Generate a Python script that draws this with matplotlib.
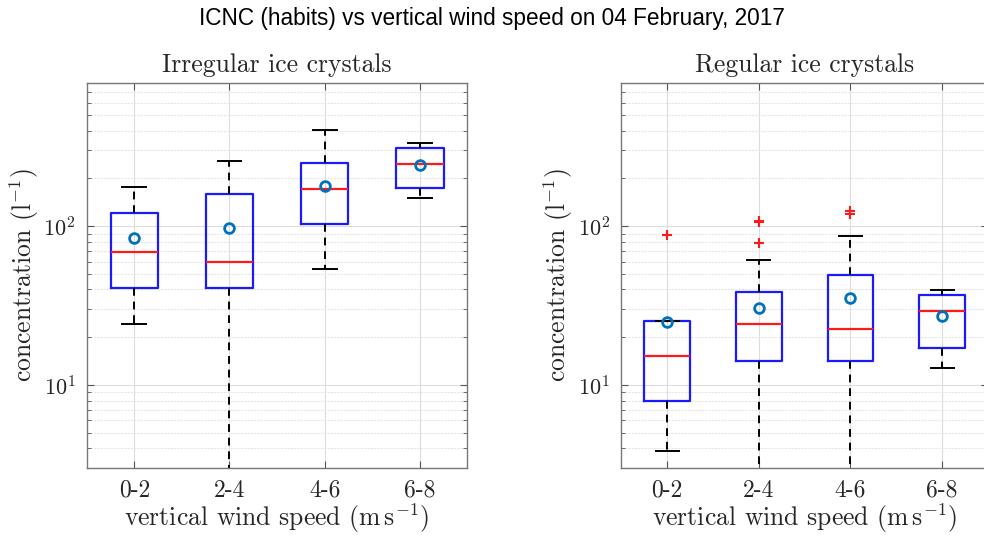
import numpy as np
import matplotlib
matplotlib.use('Agg')
import matplotlib.pyplot as plt
from matplotlib.ticker import LogLocator, NullFormatter

plt.rcParams['font.family'] = 'serif'
plt.rcParams['font.serif'] = ['cmr10']
plt.rcParams['mathtext.fontset'] = 'cm'
plt.rcParams['axes.formatter.use_mathtext'] = True

speed_bins = ['0-2', '2-4', '4-6', '6-8']

# irregular ice crystals, concentration (l^-1)
irr_whislo = [24.2, 1.5, 53.5, 150]
irr_q1 = [40.6, 40.6, 104, 175]
irr_med = [69, 60, 172, 248]
irr_q3 = [121, 160, 251, 310]
irr_whishi = [176, 256, 403, 335]
irr_mean = [84, 98, 180, 244]
irr_fliers = [[], [], [], []]

# regular ice crystals, concentration (l^-1)
reg_whislo = [3.86, 1.5, 1.5, 12.8]
reg_q1 = [8.0, 14.1, 14.1, 17.1]
reg_med = [15.3, 24.2, 22.6, 29.4]
reg_q3 = [25.2, 38.4, 49.2, 36.9]
reg_whishi = [25.5, 61, 87.4, 39.5]
reg_mean = [25.0, 30.8, 35.2, 27.2]
reg_fliers = [[87.8], [107, 108, 78.7], [119.7, 125.5], []]


def make_stats(lo, q1, med, q3, hi, mean, fliers):
    return [dict(whislo=a, q1=b, med=c, q3=d, whishi=e, mean=f, fliers=g)
            for a, b, c, d, e, f, g in zip(lo, q1, med, q3, hi, mean, fliers)]


def draw_panel(ax, stats, title):
    ax.bxp(stats, positions=range(1, len(stats) + 1), widths=0.5,
           showmeans=True, showfliers=True, patch_artist=False,
           boxprops=dict(color='#1a1aff', linewidth=1.6),
           medianprops=dict(color='#ff1a1a', linewidth=1.6),
           whiskerprops=dict(color='black', linewidth=1.4, linestyle=(0, (4, 3))),
           capprops=dict(color='black', linewidth=1.4),
           meanprops=dict(marker='o', markerfacecolor='none', markeredgecolor='#0072BD',
                          markeredgewidth=2.0, markersize=7),
           flierprops=dict(marker='+', markeredgecolor='#ff1a1a', markersize=7,
                           markeredgewidth=1.5, linestyle='none'))
    ax.set_yscale('log')
    ax.set_ylim(3, 800)
    ax.set_xlim(0.5, 4.5)
    ax.set_xticks(range(1, 5))
    ax.set_xticklabels(speed_bins)
    ax.yaxis.set_major_locator(LogLocator(base=10, numticks=10))
    ax.yaxis.set_minor_locator(LogLocator(base=10, subs=np.arange(2, 10), numticks=20))
    ax.yaxis.set_minor_formatter(NullFormatter())
    ax.grid(True, which='major', color='#dcdcdc', linewidth=0.8)
    ax.grid(True, which='minor', axis='y', color='#e6e6e6', linewidth=0.8, linestyle=(0, (2, 1)))
    ax.set_axisbelow(True)
    ax.tick_params(which='both', direction='in', top=True, right=True,
                   color='#555555', labelcolor='#262626')
    ax.tick_params(axis='x', labelsize=17)
    ax.tick_params(axis='y', labelsize=16)
    ax.tick_params(which='major', length=5, pad=8)
    ax.tick_params(which='minor', length=3)
    for s in ax.spines.values():
        s.set_color('#777777')
        s.set_linewidth(1.0)
    ax.set_title(title, fontsize=18.5, pad=8, color='#262626')
    ax.set_ylabel(r'concentration ($\mathrm{l^{-1}}$)', fontsize=18.5, color='#262626', labelpad=2)
    ax.set_xlabel(r'vertical wind speed ($\mathrm{m\,s^{-1}}$)', fontsize=18.5, color='#262626', labelpad=0)


fig = plt.figure(figsize=(9.84, 5.36), dpi=100)
ax1 = fig.add_axes([0.0882, 0.1263, 0.3867, 0.7194])
ax2 = fig.add_axes([0.6313, 0.1263, 0.3728, 0.7194])

draw_panel(ax1, make_stats(irr_whislo, irr_q1, irr_med, irr_q3, irr_whishi, irr_mean, irr_fliers),
           'Irregular ice crystals')
draw_panel(ax2, make_stats(reg_whislo, reg_q1, reg_med, reg_q3, reg_whishi, reg_mean, reg_fliers),
           'Regular ice crystals')

fig.text(0.5, 0.965, 'ICNC (habits) vs vertical wind speed on 04 February, 2017',
         ha='center', va='center', fontsize=16.3, family='Liberation Sans', color='black')

fig.savefig('out.png', dpi=100)
plt.close('all')
